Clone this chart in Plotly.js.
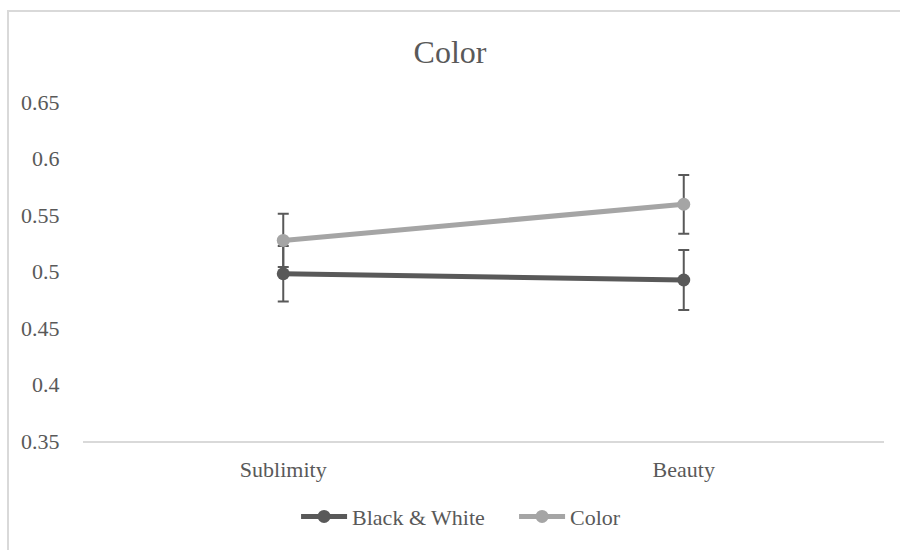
<!DOCTYPE html>
<html>
<head>
<meta charset="utf-8">
<script src="https://cdn.plot.ly/plotly-3.0.1.min.js"></script>
<style>
  html, body { margin: 0; padding: 0; background: #ffffff; overflow: hidden; }
  #frame { position: absolute; left: 7px; top: 10px; width: 1000px; height: 1000px; border: 2px solid #d9d9d9; box-sizing: border-box; }
  #chart { position: absolute; left: 0; top: 0; width: 900px; height: 550px; }
</style>
</head>
<body>
<div id="frame"></div>
<div id="chart"></div>
<script>
const categories = ["Sublimity", "Beauty"];
const bwValues = [0.498, 0.4925];
const bwErrors = [0.0245, 0.0266];
const colorValues = [0.5275, 0.5595];
const colorErrors = [0.0235, 0.026];
const yTickValues = [0.35, 0.4, 0.45, 0.5, 0.55, 0.6, 0.65];
const yTickLabels = ["0.35", "0.4", "0.45", "0.5", "0.55", "0.6", "0.65"];
const seriesNames = ["Black & White", "Color"];

const fontFamily = '"Liberation Serif", "Times New Roman", serif';
const textColor = '#595959';

const traces = [
  {
    x: categories, y: bwValues, name: seriesNames[0],
    type: 'scatter', mode: 'lines+markers',
    line: { color: '#595959', width: 5 },
    marker: { color: '#595959', size: 13 },
    error_y: { type: 'data', array: bwErrors, visible: true, color: '#595959', thickness: 2, width: 5.5 }
  },
  {
    x: categories, y: colorValues, name: seriesNames[1],
    type: 'scatter', mode: 'lines+markers',
    line: { color: '#a5a5a5', width: 5 },
    marker: { color: '#a5a5a5', size: 13 },
    error_y: { type: 'data', array: colorErrors, visible: true, color: '#595959', thickness: 2, width: 5.5 }
  }
];

const layout = {
  width: 900, height: 550,
  paper_bgcolor: 'rgba(0,0,0,0)', plot_bgcolor: 'rgba(0,0,0,0)',
  margin: { l: 83, r: 16, t: 102, b: 107 },
  font: { family: fontFamily, color: textColor, size: 22 },
  title: { text: 'Color', font: { family: fontFamily, size: 32, color: textColor }, x: 0.5, xanchor: 'center', y: 1 - 52/550, yanchor: 'middle' },
  xaxis: {
    type: 'category', range: [-0.5, 1.5],
    showgrid: false, zeroline: false,
    showline: true, linecolor: '#d9d9d9', linewidth: 2,
    ticks: 'outside', ticklen: 8, tickcolor: 'rgba(0,0,0,0)',
    tickfont: { family: fontFamily, size: 22, color: textColor }
  },
  yaxis: {
    range: [0.35, 0.65], tickvals: yTickValues, ticktext: yTickLabels,
    showgrid: false, zeroline: false, showline: false,
    ticks: 'outside', ticklen: 18, tickcolor: 'rgba(0,0,0,0)',
    tickfont: { family: fontFamily, size: 22, color: textColor }
  },
  showlegend: true,
  legend: {
    orientation: 'h', x: 0.266, xanchor: 'left', y: -0.223, yanchor: 'middle',
    entrywidth: 157, entrywidthmode: 'pixels', itemwidth: 46,
    font: { family: fontFamily, size: 22, color: textColor },
    bgcolor: 'rgba(0,0,0,0)'
  }
};

Plotly.newPlot('chart', traces, layout, { displayModeBar: false, staticPlot: true });
</script>
</body>
</html>
